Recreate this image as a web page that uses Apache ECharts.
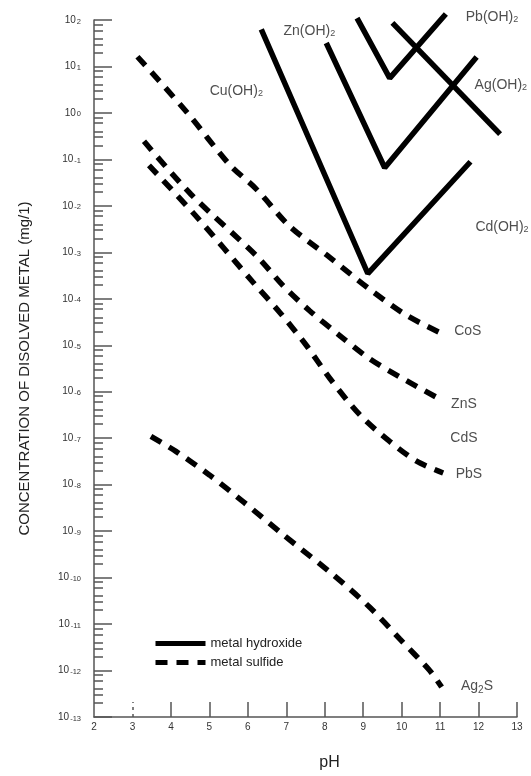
<!DOCTYPE html>
<html>
<head>
<meta charset="utf-8">
<script src="https://cdn.jsdelivr.net/npm/echarts@6/dist/echarts.min.js"></script>
<style>
  html, body { margin: 0; background: #fff; }
  #chart { width: 531px; height: 776px; }
</style>
</head>
<body>
<div id="chart"></div>
<script>
// [pH, concentration mg/l]
const hydroxideA = [[6.35, 63], [9.12, 3.5e-4], [11.79, 0.089]];
const hydroxideB = [[8.04, 32], [9.56, 0.066], [11.95, 16]];
const hydroxideC = [[8.84, 110], [9.69, 5.6], [11.15, 135]];
const hydroxideD = [[9.76, 87], [12.56, 0.35]];

const cosData = [[3.13, 16.2], [4.43, 1.0], [5.52, 0.078], [6.22, 0.023], [7.08, 3.7e-3],
  [8.13, 7.8e-4], [9.17, 1.6e-4], [10.13, 4.4e-5], [11.04, 1.8e-5]];
const znsData = [[3.30, 0.245], [4.52, 0.0178], [6.22, 8.5e-4], [6.91, 1.95e-4], [7.60, 5.6e-5],
  [8.39, 1.62e-5], [9.17, 5.1e-6], [9.95, 2.09e-6], [11.04, 6.6e-7]];
const pbsData = [[3.43, 0.074], [4.61, 6.6e-3], [6.13, 2.3e-4], [6.82, 5.2e-5], [7.52, 1.0e-5],
  [8.13, 1.95e-6], [8.91, 3.2e-7], [9.69, 8.5e-8], [10.39, 3.2e-8], [11.08, 1.78e-8]];
const ag2sData = [[3.48, 1.1e-7], [4.13, 5.2e-8], [5.00, 1.62e-8], [5.91, 4.1e-9], [6.91, 8.5e-10],
  [8.21, 1.17e-10], [9.17, 2.3e-11], [9.95, 4.8e-12], [10.73, 1.0e-12], [11.04, 4.4e-13]];

// curve labels: [pH, concentration, text]
const curveLabels = [
  [5.70, 2.9, 'Cu(OH){s|2}'],
  [7.60, 58, 'Zn(OH){s|2}'],
  [12.35, 115, 'Pb(OH){s|2}'],
  [12.58, 3.9, 'Ag(OH){s|2}'],
  [12.61, 3.5e-3, 'Cd(OH){s|2}'],
  [11.72, 2.0e-5, 'CoS'],
  [11.62, 5.4e-7, 'ZnS'],
  [11.62, 1.0e-7, 'CdS'],
  [11.75, 1.7e-8, 'PbS'],
  [11.96, 4.7e-13, 'Ag{sub|2}S']
];

// minor ticks inside each decade, placed on a hidden exponent axis
const minorMultipliers = [2, 3, 4, 6, 8];
const minorTickExponents = [];
for (let e = -13; e < 2; e++) {
  minorMultipliers.forEach(m => minorTickExponents.push(e + Math.log10(m)));
}
const xTickValues = [4, 5, 6, 7, 8, 9, 10, 11, 12, 13];

const FONT = '"Liberation Sans", Arial, sans-serif';
const INK = '#222';
const AXIS = '#555';

const hydroxideStyle = { color: '#000', width: 5.5, type: 'solid', cap: 'butt' };
const sulfideStyle = { color: '#000', width: 5.5, type: [12, 9], cap: 'butt' };

const hydroxide = (data) => ({
  name: 'metal hydroxide', type: 'line', data, symbol: 'none', clip: false,
  lineStyle: hydroxideStyle, itemStyle: { color: '#000' }, z: 3
});
const sulfide = (data) => ({
  name: 'metal sulfide', type: 'line', data, symbol: 'none', clip: false, smooth: 0.3,
  lineStyle: sulfideStyle, itemStyle: { color: '#000' }, z: 3
});

const chart = echarts.init(document.getElementById('chart'));
chart.setOption({
  animation: false,
  backgroundColor: '#fff',
  textStyle: { fontFamily: FONT },
  grid: { left: 94, right: 14, top: 20, bottom: 56 },
  legend: {
    data: ['metal hydroxide', 'metal sulfide'],
    orient: 'vertical',
    left: 153, top: 637, padding: 0,
    itemWidth: 50, itemHeight: 8, itemGap: 6,
    itemStyle: { opacity: 0 },
    lineStyle: { width: 5 },
    textStyle: { fontSize: 13, color: INK, fontFamily: FONT }
  },
  xAxis: [{
    type: 'value', min: 2, max: 13, interval: 1,
    name: 'pH', nameLocation: 'middle', nameGap: 38,
    nameTextStyle: { fontSize: 16, color: INK, padding: [0, 0, 0, 48] },
    axisLine: { onZero: false, lineStyle: { color: AXIS, width: 1.5 } },
    axisTick: { inside: true, length: 15, customValues: xTickValues, lineStyle: { color: AXIS, width: 1.5 } },
    axisLabel: { fontSize: 10, color: '#333', margin: 5 },
    splitLine: { show: false }
  }, {
    type: 'value', min: 2, max: 13, position: 'bottom',
    axisLine: { show: false, onZero: false },
    axisTick: { inside: true, length: 15, customValues: [3], lineStyle: { color: AXIS, width: 1.5, type: [3, 4] } },
    axisLabel: { show: false },
    splitLine: { show: false }
  }],
  yAxis: [{
    type: 'log', logBase: 10, min: 1e-13, max: 1e2, interval: 1, splitNumber: 15,
    name: 'CONCENTRATION OF DISOLVED METAL (mg/1)', nameLocation: 'middle', nameGap: 62,
    nameTextStyle: { fontSize: 15, color: INK },
    axisLine: { show: true, onZero: false, lineStyle: { color: AXIS, width: 1.5 } },
    axisTick: { inside: true, length: 18, lineStyle: { color: AXIS, width: 1.5 } },
    minorTick: { show: false },
    axisLabel: {
      margin: 13,
      formatter: v => '{b|10}{e|' + Math.round(Math.log10(v)) + '}',
      rich: {
        b: { fontSize: 10, color: '#333', fontFamily: FONT },
        e: { fontSize: 7.5, color: '#333', fontFamily: FONT, padding: [3, 0, 0, 1] }
      }
    },
    splitLine: { show: false }
  }, {
    type: 'value', min: -13, max: 2, position: 'left',
    axisLine: { show: false, onZero: false },
    axisTick: { inside: true, length: 9, customValues: minorTickExponents, lineStyle: { color: AXIS, width: 1.5 } },
    axisLabel: { show: false },
    splitLine: { show: false }
  }],
  series: [
    hydroxide(hydroxideA),
    hydroxide(hydroxideB),
    hydroxide(hydroxideC),
    hydroxide(hydroxideD),
    sulfide(cosData),
    sulfide(znsData),
    sulfide(pbsData),
    sulfide(ag2sData),
    {
      type: 'scatter', name: 'labels', data: curveLabels, symbolSize: 0, clip: false, silent: true,
      label: {
        show: true, position: 'inside',
        formatter: p => p.data[2],
        fontSize: 14, color: INK, fontFamily: FONT,
        rich: {
          s: { fontSize: 9, color: INK, fontFamily: FONT, padding: [5, 0, 0, 0] },
          sub: { fontSize: 10, color: INK, fontFamily: FONT, padding: [8, 0, 0, 0] }
        }
      }
    }
  ]
});
</script>
</body>
</html>
